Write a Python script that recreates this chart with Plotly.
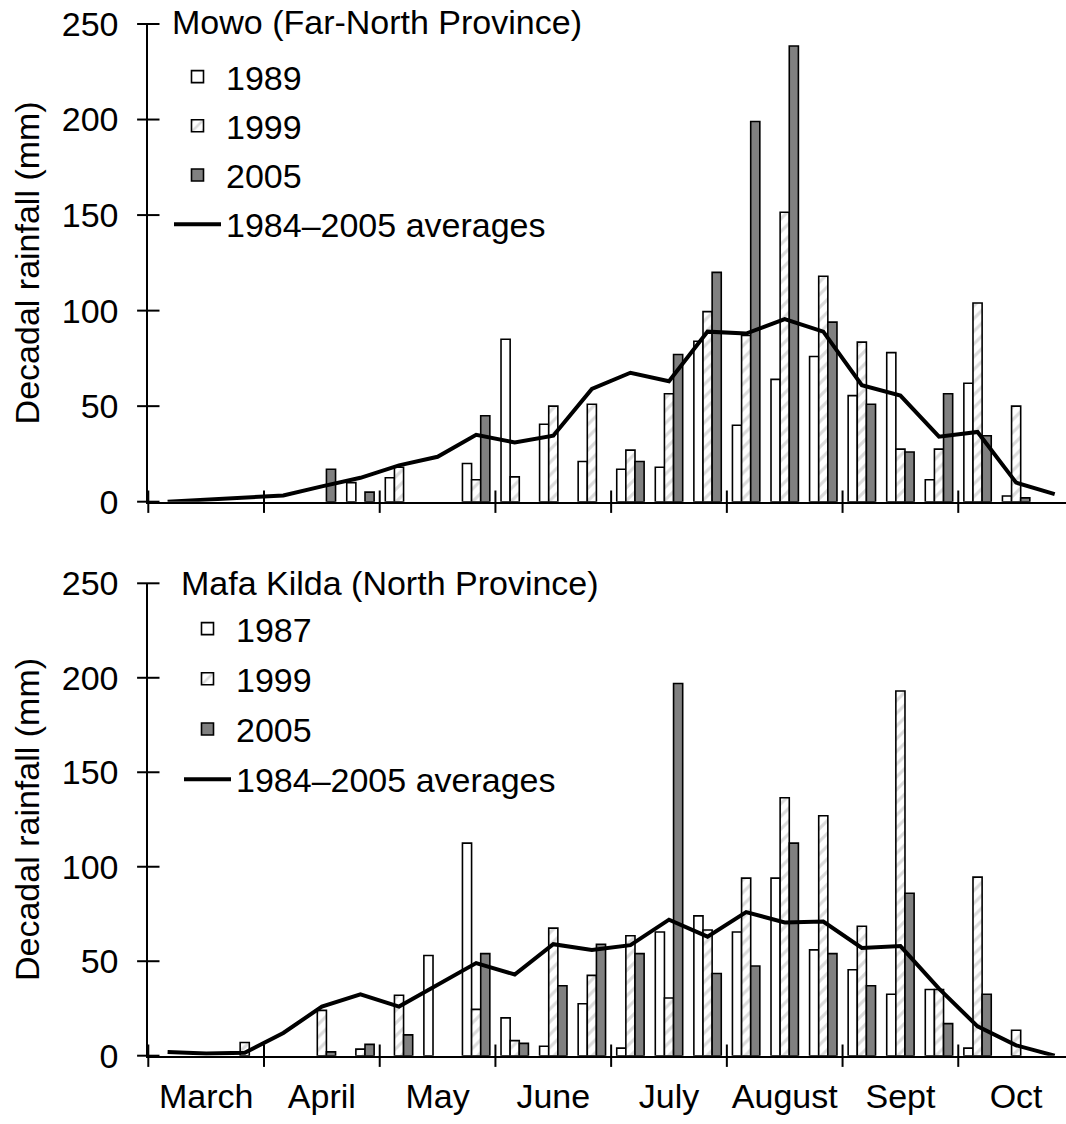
import plotly.graph_objects as go

# ---------------- data ----------------
months = ["March", "April", "May", "June", "July", "August", "Sept", "Oct"]
dekad_index = list(range(24))          # 3 dekads per month, March..October
month_centres = [1, 4, 7, 10, 13, 16, 19, 22]
month_bounds = [-0.5, 2.5, 5.5, 8.5, 11.5, 14.5, 17.5, 20.5]

# Mowo (Far-North Province)
mowo_1989 = [None, None, None, None, None, 10, 12.5, None, 20, 85, 40.5, 21,
             17, 18, 84, 40, 64, 76, 55.5, 78, 11.5, 62, 3, None]
mowo_1999 = [None, None, None, None, None, None, 18, None, 11.5, 13, 50, 51,
             27, 56.5, 99.5, 87, 151.5, 118, 83.5, 27.5, 27.5, 104, 50, None]
mowo_2005 = [None, None, None, None, 17, 5, None, None, 45, None, None, None,
             21, 77, 120, 199, 238.5, 94, 51, 26, 56.5, 34.5, 2, None]
mowo_avg = [0, 1, 2, 3.3, 8, 12.5, 19, 23.5, 35, 31, 34.5, 59,
            67.5, 63, 89, 88, 95.5, 89, 61, 55.5, 34, 36.5, 10, 4]

# Mafa Kilda (North Province)
mafa_1987 = [None, None, None, None, None, None, None, 53, 112.5, 20, 5, 27.5,
             4, 65.5, 74, 65.5, 94, 56, 45.5, 32.5, 35, 4, None, None]
mafa_1999 = [None, None, 7, None, 24, 3.5, 32, None, 24.5, 8, 67.5, 42.5,
             63.5, 30.5, 66.5, 94, 136.5, 127, 68.5, 193, 35, 94.5, 13.5, None]
mafa_2005 = [None, None, None, None, 2, 6, 11, None, 54, 6.5, 37, 59,
             54, 197, 43.5, 47.5, 112.5, 54, 37, 86, 17, 32.5, None, None]
mafa_avg = [2, 1.2, 1.5, 12, 26, 32.5, 26, 37.5, 49, 43, 59, 56,
            58.5, 72, 63, 76, 70.5, 71, 57, 58, 35.5, 15.5, 5.5, 0]

y_ticks = [0, 50, 100, 150, 200, 250]

# ---------------- styling ----------------
FONT = "Liberation Sans, Arial, sans-serif"
FS = 34
W, H = 1066, 1124
x_dom = [148.3 / W, 1.0]
top_dom = [1 - 501.7 / H, 1 - 24 / H]
bot_dom = [1 - 1055.7 / H, 1 - 583.3 / H]
x_range = [-0.5, -0.5 + (W - 148.3) / 38.57]

white_style = dict(color="white", line=dict(color="black", width=1.6))
hatch_style = dict(color="white", line=dict(color="black", width=1.6),
                   pattern=dict(shape="/", fgcolor="#b8b8b8", bgcolor="white",
                                size=9, solidity=0.35))
grey_style = dict(color="#808080", line=dict(color="black", width=1.6))
tick_line = dict(width=2, color="black")

fig = go.Figure()


def add_panel(xa, ya, legend, series, avg, tag):
    for name, vals, style in series:
        fig.add_trace(go.Bar(x=dekad_index, y=vals, name=name, marker=style,
                             xaxis=xa, yaxis=ya, legend=legend,
                             legendgroup=tag + name))
    fig.add_trace(go.Scatter(x=dekad_index, y=avg, name="1984–2005 averages",
                             mode="lines", line=dict(color="black", width=4),
                             xaxis=xa, yaxis=ya, legend=legend,
                             legendgroup=tag + "avg"))
    # crossing tick marks (drawn as line markers on the axes)
    fig.add_trace(go.Scatter(x=month_bounds, y=[0] * len(month_bounds),
                             mode="markers", cliponaxis=False,
                             marker=dict(symbol="line-ns", size=16, line=tick_line),
                             xaxis=xa, yaxis=ya, showlegend=False, hoverinfo="skip"))
    fig.add_trace(go.Scatter(x=[-0.5] * len(y_ticks), y=y_ticks,
                             mode="markers", cliponaxis=False,
                             marker=dict(symbol="line-ew", size=16, line=tick_line),
                             xaxis=xa, yaxis=ya, showlegend=False, hoverinfo="skip"))


add_panel("x", "y", "legend",
          [("1989", mowo_1989, white_style), ("1999", mowo_1999, hatch_style),
           ("2005", mowo_2005, grey_style)], mowo_avg, "top")
add_panel("x2", "y2", "legend2",
          [("1987", mafa_1987, white_style), ("1999", mafa_1999, hatch_style),
           ("2005", mafa_2005, grey_style)], mafa_avg, "bot")

tickfont = dict(family=FONT, size=FS, color="black")
base_x = dict(domain=x_dom, range=x_range, showgrid=False, zeroline=False,
              showline=True, linecolor="black", linewidth=2, ticks="")
base_y = dict(range=[0, 250], showgrid=False, zeroline=False,
              showline=True, linecolor="black", linewidth=2, ticks="",
              tickmode="array", tickvals=y_ticks, tickfont=tickfont,
              ticklabelstandoff=21,
              title=dict(text="Decadal rainfall (mm)", font=tickfont, standoff=12))
legend_base = dict(xanchor="left", yanchor="top", bgcolor="rgba(0,0,0,0)",
                   itemwidth=47, font=dict(family=FONT, size=FS, color="black"))

fig.update_layout(
    width=W, height=H, margin=dict(l=0, r=0, t=0, b=0, autoexpand=False),
    paper_bgcolor="white", plot_bgcolor="white",
    barmode="group", bargap=0.29, bargroupgap=0,
    font=dict(family=FONT, size=FS, color="black"),
    xaxis=dict(base_x, anchor="y", showticklabels=False),
    xaxis2=dict(base_x, anchor="y2", tickmode="array", tickvals=month_centres,
                ticktext=months, tickfont=tickfont, ticklabelstandoff=9),
    yaxis=dict(base_y, domain=top_dom, anchor="x"),
    yaxis2=dict(base_y, domain=bot_dom, anchor="x2"),
    legend=dict(legend_base, x=169 / W, y=1 - 48 / H, tracegroupgap=2),
    legend2=dict(legend_base, x=179 / W, y=1 - 600 / H, tracegroupgap=3),
    showlegend=True,
    annotations=[
        dict(text="Mowo (Far-North Province)", xref="paper", yref="paper",
             x=170 / W, y=1 - 22 / H, xanchor="left", yanchor="middle",
             showarrow=False, font=dict(family=FONT, size=FS, color="black")),
        dict(text="Mafa Kilda (North Province)", xref="paper", yref="paper",
             x=179 / W, y=1 - 583 / H, xanchor="left", yanchor="middle",
             showarrow=False, font=dict(family=FONT, size=FS, color="black")),
    ],
)

fig.write_html("out.html")
